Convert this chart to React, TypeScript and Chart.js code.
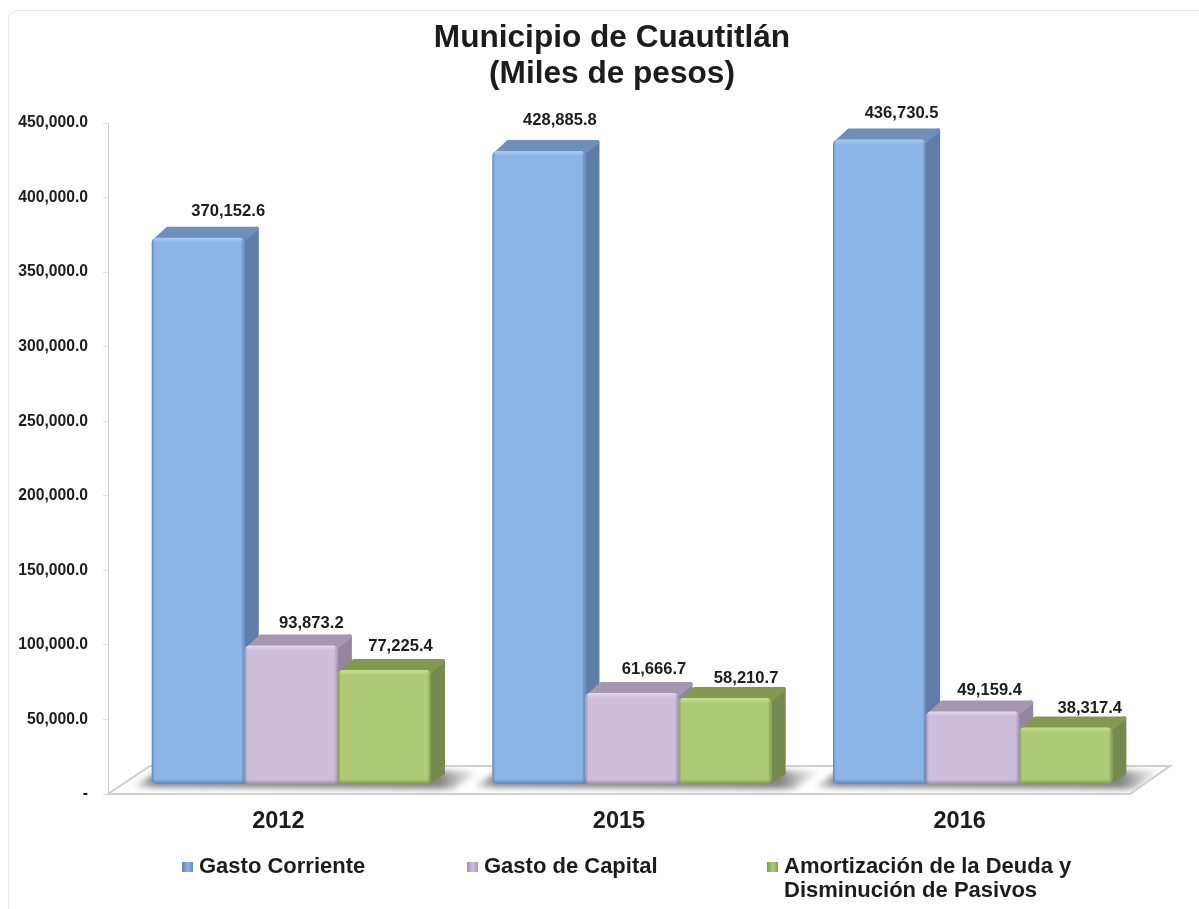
import React, { useEffect, useRef } from "react";
import { Chart, registerables } from "chart.js";

Chart.register(...registerables);

const W = 1199;
const H = 909;
const FONT = '"Liberation Sans", Arial, sans-serif';
const TEXT = "#1c1c1c";

const titleLines = ["Municipio de Cuautitlán", "(Miles de pesos)"];
const categories = ["2012", "2015", "2016"];
const gastoCorriente = [370152.6, 428885.8, 436730.5];
const gastoCapital = [93873.2, 61666.7, 49159.4];
const amortizacion = [77225.4, 58210.7, 38317.4];
const legendLabels = [["Gasto Corriente"], ["Gasto de Capital"], ["Amortización de la Deuda y", "Disminución de Pasivos"]];

// layout helpers, separate from the data
const SHIFT_X = 13; // bars stand this far inside the floor
const SHIFT_Y = -10;
const DEPTH_X = 14;
const DEPTH_Y = -11;
const labelNudgeX = [
  [11, 1, -3],
  [2, 3, 2],
  [3, -2, 5],
];
const labelNudgeY = [
  [0, 4, 2],
  [-5, 2, 6],
  [0, 5, 7],
];
const legendX = [182, 467, 767];
const faces = [
  { front: "#8db4e6", light: "#a9cbf2", dark: "#5f83b4", side: "#5f7da6", top: "#6f8fb9" },
  { front: "#cdbfdc", light: "#e3d8ee", dark: "#9f90b0", side: "#94869f", top: "#a597b0" },
  { front: "#afcb78", light: "#c6e08f", dark: "#7e9a4c", side: "#76894f", top: "#84994f" },
];

const rr = (ctx: CanvasRenderingContext2D, x: number, y: number, w: number, h: number, r: number) => {
  ctx.beginPath();
  ctx.roundRect(x, y, w, h, r);
};

const fmt = (v: number) =>
  v.toLocaleString("en-US", { minimumFractionDigits: 1, maximumFractionDigits: 1 });

const drawFloor = (chart: any) => {
  const { ctx, chartArea: a } = chart;
  const sl = 42;
  const back = a.bottom - 28;
  const floorPath = () => {
    ctx.beginPath();
    ctx.moveTo(a.left, a.bottom);
    ctx.lineTo(a.left + sl, back);
    ctx.lineTo(a.right + sl - 2, back);
    ctx.lineTo(a.right, a.bottom);
    ctx.closePath();
  };
  ctx.save();
  floorPath();
  ctx.fillStyle = "#ffffff";
  ctx.fill();
  ctx.save();
  ctx.clip();
  const first = chart.getDatasetMeta(0).data;
  const last = chart.getDatasetMeta(2).data;
  first.forEach((b0: any, i: number) => {
    const bN = last[i];
    const xL = b0.x - b0.width / 2 + SHIFT_X;
    const xR = bN.x + bN.width / 2 + SHIFT_X + DEPTH_X;
    const yB = b0.base + SHIFT_Y;
    const g = ctx.createLinearGradient(xL - 26, 0, xR + 38, 0);
    g.addColorStop(0, "rgba(170,170,170,0.2)");
    g.addColorStop(0.08, "rgba(100,100,100,0.8)");
    g.addColorStop(0.88, "rgba(100,100,100,0.8)");
    g.addColorStop(1, "rgba(190,190,190,0.12)");
    ctx.filter = "blur(3px)";
    ctx.fillStyle = g;
    ctx.beginPath();
    ctx.moveTo(xL - 18, yB + 3);
    ctx.lineTo(xL + 6, yB - 13);
    ctx.lineTo(xR + 34, yB - 13);
    ctx.lineTo(xR + 8, yB + 5);
    ctx.closePath();
    ctx.fill();
    ctx.filter = "none";
  });
  ctx.restore();
  floorPath();
  ctx.strokeStyle = "#cfcfcf";
  ctx.lineWidth = 2;
  ctx.stroke();
  ctx.restore();
};

const drawDepth = (ctx: CanvasRenderingContext2D, meta: any, face: any) => {
  meta.data.forEach((b: any) => {
    const l = b.x - b.width / 2;
    const r = b.x + b.width / 2;
    ctx.lineJoin = "round";
    ctx.lineWidth = 4;
    ctx.fillStyle = face.side;
    ctx.strokeStyle = face.side;
    ctx.beginPath();
    ctx.moveTo(r - 3, b.y + 3);
    ctx.lineTo(r + DEPTH_X - 2, b.y + DEPTH_Y + 2);
    ctx.lineTo(r + DEPTH_X - 2, b.base + DEPTH_Y);
    ctx.lineTo(r - 3, b.base - 2);
    ctx.closePath();
    ctx.fill();
    ctx.stroke();
    ctx.fillStyle = face.top;
    ctx.strokeStyle = face.top;
    ctx.beginPath();
    ctx.moveTo(l + 3, b.y + 3);
    ctx.lineTo(l + DEPTH_X + 2, b.y + DEPTH_Y + 2);
    ctx.lineTo(r + DEPTH_X - 2, b.y + DEPTH_Y + 2);
    ctx.lineTo(r - 3, b.y + 3);
    ctx.closePath();
    ctx.fill();
    ctx.stroke();
  });
};

const drawBevel = (ctx: CanvasRenderingContext2D, meta: any, face: any) => {
  meta.data.forEach((b: any) => {
    const l = b.x - b.width / 2;
    const w = b.width;
    const t = b.y;
    const h = b.base - b.y;
    ctx.save();
    rr(ctx, l, t, w, h, 5);
    ctx.clip();
    const gv = ctx.createLinearGradient(0, t, 0, b.base);
    const px = 1 / h;
    gv.addColorStop(0, face.light);
    gv.addColorStop(Math.min(0.4, 5 * px), face.light + "00");
    gv.addColorStop(Math.max(0.6, 1 - 5 * px), face.dark + "00");
    gv.addColorStop(1, face.dark);
    ctx.fillStyle = gv;
    ctx.fillRect(l, t, w, h);
    const gh = ctx.createLinearGradient(l, 0, l + w, 0);
    gh.addColorStop(0, face.dark);
    gh.addColorStop(0.03, face.dark + "00");
    gh.addColorStop(0.96, face.dark + "00");
    gh.addColorStop(1, face.dark);
    ctx.fillStyle = gh;
    ctx.fillRect(l, t, w, h);
    ctx.restore();
  });
};

const stage3d = {
  id: "stage3d",
  afterLayout(chart: any) {
    // centre the title over the space where the reference has it
    chart.titleBlock.left = 26;
    chart.titleBlock.right = W - 1;
  },
  // the library paints right to left; this stage needs left to right, so nearer faces overlap
  beforeDatasetDraw() {
    return false;
  },
  afterDatasetsDraw(chart: any) {
    const { ctx } = chart;
    drawFloor(chart);
    chart.data.datasets.forEach((_: any, d: number) => {
      const meta = chart.getDatasetMeta(d);
      ctx.save();
      ctx.translate(SHIFT_X, SHIFT_Y);
      drawDepth(ctx, meta, faces[d]);
      meta.controller.draw();
      drawBevel(ctx, meta, faces[d]);
      ctx.restore();
    });
    ctx.save();
    ctx.fillStyle = TEXT;
    ctx.textAlign = "center";
    ctx.textBaseline = "middle";
    ctx.font = `bold 16.6px ${FONT}`;
    chart.data.datasets.forEach((ds: any, d: number) => {
      chart.getDatasetMeta(d).data.forEach((b: any, i: number) => {
        ctx.fillText(
          fmt(ds.data[i]),
          b.x + SHIFT_X + 19 + labelNudgeX[i][d],
          b.y + SHIFT_Y - 26 + labelNudgeY[i][d]
        );
      });
    });
    // legend
    ctx.textAlign = "left";
    ctx.font = `bold 22px ${FONT}`;
    legendLabels.forEach((lines, i) => {
      const x = legendX[i];
      const g = ctx.createLinearGradient(x, 0, x + 12, 0);
      g.addColorStop(0, faces[i].dark);
      g.addColorStop(0.5, faces[i].front);
      g.addColorStop(1, faces[i].dark);
      ctx.fillStyle = g;
      ctx.fillRect(x, 862, 11, 10);
      ctx.fillStyle = TEXT;
      lines.forEach((line, j) => {
        ctx.fillText(line, x + 17, 867 + j * 24);
      });
    });
    ctx.restore();
  },
};

export default function App() {
  const ref = useRef<HTMLCanvasElement>(null);
  useEffect(() => {
    const chart = new Chart(ref.current as HTMLCanvasElement, {
      type: "bar",
      data: {
        labels: categories,
        datasets: [
          { label: legendLabels[0].join(" "), data: gastoCorriente },
          { label: legendLabels[1].join(" "), data: gastoCapital },
          { label: legendLabels[2].join(" "), data: amortizacion },
        ].map((d, i) => ({
          ...d,
          yAxisID: "yBars",
          backgroundColor: faces[i].front,
          borderWidth: 0,
          borderRadius: 5,
          borderSkipped: false,
          categoryPercentage: 0.82,
          barPercentage: 1,
        })),
      },
      options: {
        responsive: false,
        animation: false,
        layout: { padding: { left: 0, right: 69, top: 0, bottom: 0 } },
        plugins: {
          legend: { display: false },
          tooltip: { enabled: false },
          title: {
            display: true,
            text: titleLines,
            color: TEXT,
            font: { family: FONT, size: 31.6, weight: "bold", lineHeight: 1.14 },
            padding: { top: 20, bottom: 31 },
          },
        },
        scales: {
          x: {
            grid: { display: false },
            border: { display: false },
            ticks: { color: TEXT, padding: 5, font: { family: FONT, size: 23.5, weight: "bold" } },
            afterFit(s: any) {
              s.height = H - 794;
            },
          },
          y: {
            min: 0,
            max: 450000,
            afterFit(s: any) {
              s.width = 108;
            },
            border: { color: "#cccccc" },
            grid: { drawOnChartArea: false, tickLength: 5, color: "#e2e2e2" },
            ticks: {
              stepSize: 50000,
              padding: 15,
              color: TEXT,
              font: { family: FONT, size: 15.7, weight: "bold" },
              callback: (v: any) => (v === 0 ? "-" : fmt(v)),
            },
          },
          yBars: { display: false, min: 0, max: 454600 },
        },
      },
      plugins: [stage3d],
    } as any);
    return () => chart.destroy();
  }, []);
  return (
    <div style={{ position: "absolute", left: 0, top: 0, width: W, height: H, overflow: "hidden", background: "#ffffff" }}>
      <div
        style={{
          position: "absolute",
          left: 8,
          top: 10,
          width: W + 20,
          height: H + 20,
          boxSizing: "border-box",
          border: "1px solid #e6e6e6",
          borderRadius: 10,
        }}
      />
      <canvas ref={ref} width={W} height={H} style={{ position: "absolute", left: 0, top: 0, display: "block" }} />
    </div>
  );
}
